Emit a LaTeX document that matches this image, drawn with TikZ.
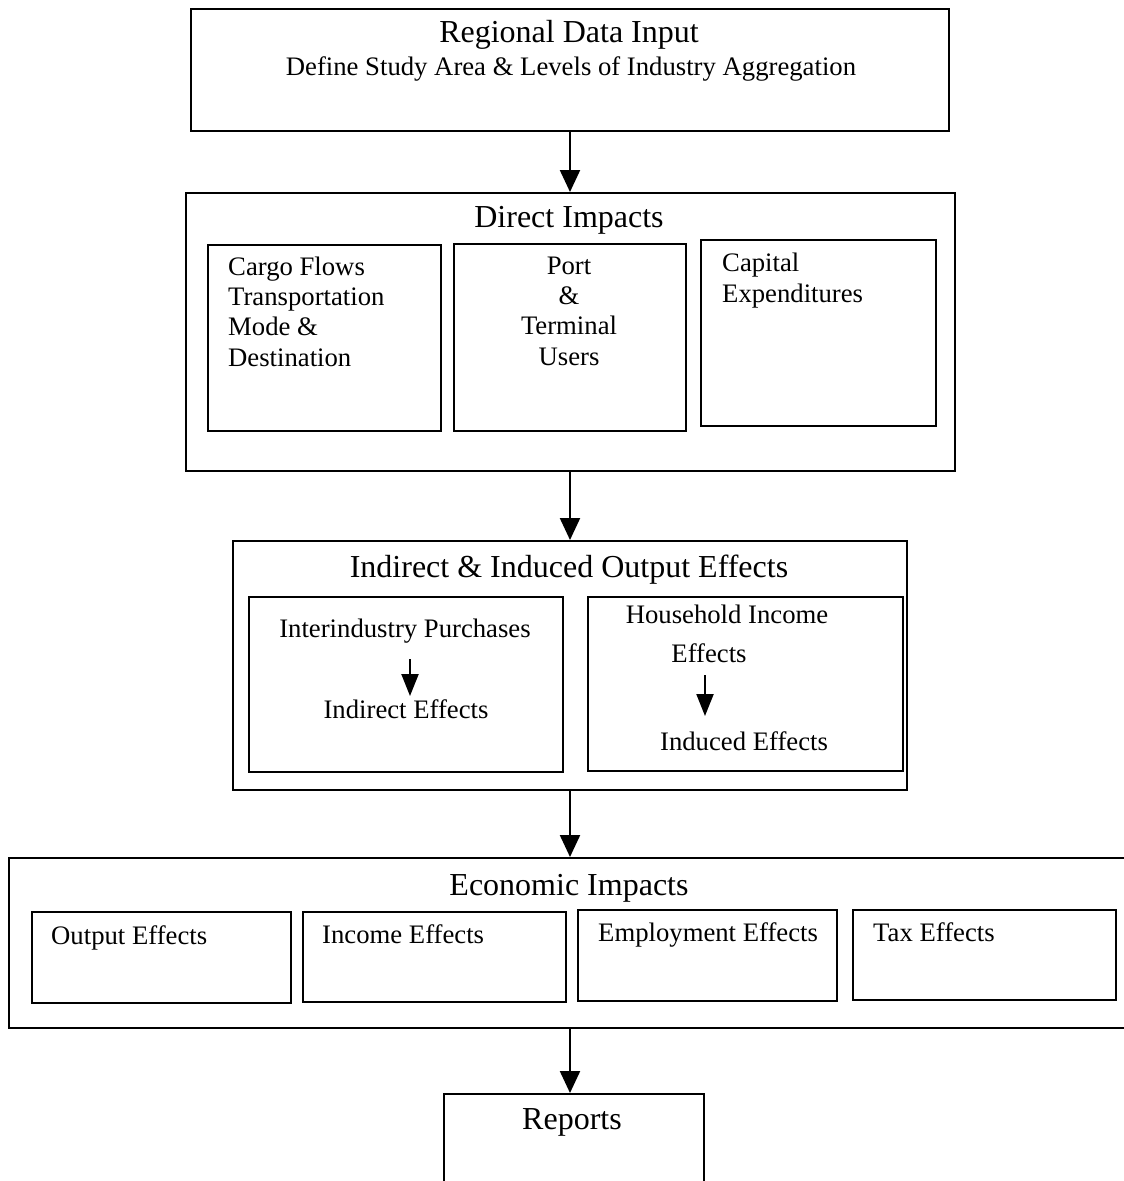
\documentclass[tikz,border=0pt]{standalone}
\usepackage{fontspec}
\setmainfont{Liberation Serif}
\usetikzlibrary{arrows.meta}
\begin{document}
\begin{tikzpicture}[x=1pt,y=-1pt,
  frame/.style={draw, line width=2.2pt, inner sep=0pt, anchor=north west},
  headtext/.style={font=\fontsize{32}{38}\selectfont, inner sep=0pt, anchor=base},
  bodytext/.style={font=\fontsize{26.7}{30.3}\selectfont, inner sep=0pt, anchor=base},
  lefttext/.style={bodytext, anchor=base west, align=left},
  flow/.style={line width=2.2pt, -{Triangle[length=22pt,width=20pt]}},
  smallflow/.style={line width=2.2pt, -{Triangle[length=22pt,width=17pt]}}]
\useasboundingbox (0,0) rectangle (1124,1181);
\clip (0,0) rectangle (1124,1181);

% Regional data input
\node[frame, minimum width=758pt, minimum height=122pt] (input) at (190,8) {};
\node[headtext] (inputT) at (569,42) {Regional Data Input};
\node[bodytext] (inputS) at (571,75) {Define Study Area \& Levels of Industry Aggregation};

% Direct impacts (multi-line texts are placed by their last baseline)
\node[frame, minimum width=769pt, minimum height=278pt] (direct) at (185,192) {};
\node[headtext] (directT) at (569,227) {Direct Impacts};
\node[frame, minimum width=233pt, minimum height=186pt] (cargo) at (207,244) {};
\node[frame, minimum width=232pt, minimum height=187pt] (port) at (453,243) {};
\node[frame, minimum width=235pt, minimum height=186pt] (capital) at (700,239) {};
\node[lefttext] (cargoT) at (228,366) {Cargo Flows\\Transportation\\Mode \&\\Destination};
\node[bodytext, align=center, anchor=base] (portT) at (569,365) {Port\\\&\\Terminal\\Users};
\node[lefttext] (capitalT) at (722,302) {Capital\\Expenditures};

% Indirect and induced effects
\node[frame, minimum width=674pt, minimum height=249pt] (output) at (232,540) {};
\node[headtext] (outputT) at (569,577) {Indirect \& Induced Output Effects};
\node[frame, minimum width=314pt, minimum height=175pt] (inter) at (248,596) {};
\node[frame, minimum width=315pt, minimum height=174pt] (house) at (587,596) {};
\node[bodytext] (interT) at (405,637) {Interindustry Purchases};
\node[bodytext] (indirT) at (406,718) {Indirect Effects};
\node[bodytext] (houseT) at (727,623) {Household Income};
\node[bodytext] (houseE) at (709,662) {Effects};
\node[bodytext] (inducT) at (744,750) {Induced Effects};
\coordinate (interA) at (410,659);
\coordinate (interB) at (410,696);
\coordinate (houseA) at (705,675);
\coordinate (houseB) at (705,716);
\draw[smallflow] (interA) -- (interB);
\draw[smallflow] (houseA) -- (houseB);

% Economic impacts
\node[frame, minimum width=1130pt, minimum height=170pt] (econ) at (8,857) {};
\node[headtext] (econT) at (569,895) {Economic Impacts};
\node[frame, minimum width=259pt, minimum height=91pt] (outE) at (31,911) {};
\node[frame, minimum width=263pt, minimum height=90pt] (incE) at (302,911) {};
\node[frame, minimum width=259pt, minimum height=91pt] (empE) at (577,909) {};
\node[frame, minimum width=263pt, minimum height=90pt] (taxE) at (852,909) {};
\node[lefttext] (outT) at (51,944) {Output Effects};
\node[lefttext] (incT) at (322,943) {Income Effects};
\node[lefttext] (empT) at (598,941) {Employment Effects};
\node[lefttext] (taxT) at (873,941) {Tax Effects};

% Reports (runs past the lower edge)
\node[frame, minimum width=260pt, minimum height=120pt] (rep) at (443,1093) {};
\node[headtext] (repT) at (572,1129) {Reports};

% Main flow
\draw[flow] (input.south -| 570,0) -- (direct.north -| 570,0);
\draw[flow] (direct.south -| 570,0) -- (output.north -| 570,0);
\draw[flow] (output.south -| 570,0) -- (econ.north -| 570,0);
\draw[flow] (econ.south -| 570,0) -- (rep.north -| 570,0);
\end{tikzpicture}
\end{document}
